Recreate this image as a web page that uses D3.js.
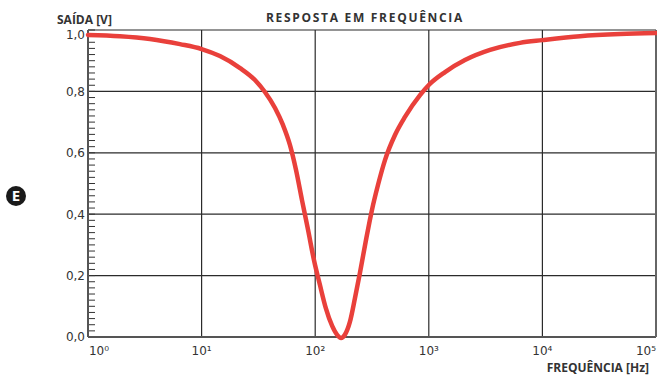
<!DOCTYPE html>
<html>
<head>
<meta charset="utf-8">
<script src="https://cdn.jsdelivr.net/npm/d3@7"></script>
<style>
  body { margin: 0; background: #fff; }
  svg { display: block; }
</style>
</head>
<body>
<script>
// frequency (Hz) and output (V)
const freq  = [1, 1.91, 3.51, 6.45, 10, 14.5, 21.8, 29.5, 36.1, 44.3, 52.1, 60, 67.8, 76.5, 86.4, 97.6, 110, 124, 141, 156, 169, 183, 202, 224, 248, 280, 316, 357, 412, 504, 617, 837, 1000, 1390, 2080, 3460, 6350, 10000, 21400, 48200, 100000];
const saida = [0.984, 0.980, 0.971, 0.954, 0.938, 0.915, 0.876, 0.837, 0.798, 0.746, 0.69, 0.625, 0.544, 0.446, 0.35, 0.25, 0.17, 0.094, 0.036, 0.007, -0.003, 0.008, 0.049, 0.127, 0.21, 0.316, 0.414, 0.495, 0.577, 0.658, 0.717, 0.788, 0.821, 0.863, 0.902, 0.935, 0.958, 0.967, 0.98, 0.987, 0.99];

const xTicks = [1, 10, 100, 1000, 10000, 100000];
const xTickExp = ['\u2070', '\u00b9', '\u00b2', '\u00b3', '\u2074', '\u2075'];
const yTicks = [0, 0.2, 0.4, 0.6, 0.8, 1.0];
const yMinorTicks = d3.range(0, 1.0001, 0.02);

const margin = { top: 30, right: 1, bottom: 40, left: 88 };
const width = 657 - margin.left - margin.right;
const height = 337 - margin.top;

const svg = d3.select('body')
  .append('svg')
  .attr('width', 657)
  .attr('height', 377);

const g = svg.append('g')
  .attr('transform', `translate(${margin.left}, ${margin.top})`);

const xScale = d3.scaleLog()
  .domain([1, 100000])
  .range([0, width]);

const yScale = d3.scaleLinear()
  .domain([0, 1])
  .range([height, 0]);

// grid
g.selectAll('.vgrid').data(xTicks)
  .enter()
  .append('line')
  .attr('x1', d => xScale(d))
  .attr('x2', d => xScale(d))
  .attr('y1', 0)
  .attr('y2', height)
  .attr('stroke', '#2b2b2b')
  .attr('stroke-width', 1.2);

g.selectAll('.hgrid').data(yTicks)
  .enter()
  .append('line')
  .attr('x1', 0)
  .attr('x2', width)
  .attr('y1', d => yScale(d))
  .attr('y2', d => yScale(d))
  .attr('stroke', '#2b2b2b')
  .attr('stroke-width', 1.2);

// minor ticks on the y axis (inside)
g.selectAll('.minor').data(yMinorTicks)
  .enter()
  .append('line')
  .attr('x1', 0)
  .attr('x2', 7)
  .attr('y1', d => yScale(d))
  .attr('y2', d => yScale(d))
  .attr('stroke', '#333')
  .attr('stroke-width', 1);

// frame
g.append('line')
  .attr('x1', 0).attr('x2', 0)
  .attr('y1', 0).attr('y2', height)
  .attr('stroke', '#555').attr('stroke-width', 2);
g.append('line')
  .attr('x1', 0).attr('x2', width)
  .attr('y1', height).attr('y2', height)
  .attr('stroke', '#555').attr('stroke-width', 2);
g.append('line')
  .attr('x1', width).attr('x2', width)
  .attr('y1', 0).attr('y2', height)
  .attr('stroke', '#666').attr('stroke-width', 2);

// y tick labels
g.selectAll('.ylab').data(yTicks)
  .enter()
  .append('text')
  .attr('x', -3)
  .attr('y', d => d === 1 ? yScale(d) + 5 : yScale(d))
  .attr('dy', '0.36em')
  .style('text-anchor', 'end')
  .style('font-family', 'DejaVu Sans, Verdana, sans-serif')
  .style('font-size', '12px')
  .style('fill', '#333')
  .text(d => d3.format('.1f')(d).replace('.', ','));

// x tick labels
g.selectAll('.xlab').data(xTicks)
  .enter()
  .append('text')
  .attr('x', (d, i) => xScale(d) + (i === 0 ? 11 : i === xTicks.length - 1 ? -10 : 0))
  .attr('y', height + 18)
  .style('text-anchor', 'middle')
  .style('font-family', 'DejaVu Sans, Verdana, sans-serif')
  .style('font-size', '12px')
  .style('fill', '#333')
  .text((d, i) => '10' + xTickExp[i]);

// curve
const line = d3.line()
  .x((d, i) => xScale(freq[i]))
  .y(d => yScale(d))
  .curve(d3.curveMonotoneX);

g.append('path')
  .datum(saida)
  .attr('d', line)
  .attr('fill', 'none')
  .attr('stroke', '#e9403b')
  .attr('stroke-width', 4.5)
  .attr('stroke-linejoin', 'round')
  .attr('stroke-linecap', 'round');

// titles
svg.append('text')
  .attr('x', 365)
  .attr('y', 22)
  .style('text-anchor', 'middle')
  .style('font-family', 'Open Sans, sans-serif')
  .style('font-weight', 'bold')
  .style('font-size', '12px')
  .style('letter-spacing', '1.7px')
  .style('fill', '#333')
  .text('RESPOSTA EM FREQUÊNCIA');

svg.append('text')
  .attr('x', 57)
  .attr('y', 24)
  .style('font-family', 'Open Sans, sans-serif')
  .style('font-weight', 'bold')
  .style('font-size', '12px')
  .style('fill', '#333')
  .text('SAÍDA [V]');

svg.append('text')
  .attr('x', 649)
  .attr('y', 372)
  .style('text-anchor', 'end')
  .style('font-family', 'Open Sans, sans-serif')
  .style('font-weight', 'bold')
  .style('font-size', '12px')
  .style('fill', '#333')
  .text('FREQUÊNCIA [Hz]');

// "E" badge
svg.append('circle')
  .attr('cx', 16)
  .attr('cy', 196)
  .attr('r', 10)
  .attr('fill', '#1a1a1a');
svg.append('text')
  .attr('x', 16)
  .attr('y', 196)
  .attr('dy', '0.36em')
  .style('text-anchor', 'middle')
  .style('font-family', 'Open Sans, sans-serif')
  .style('font-weight', 'bold')
  .style('font-size', '15px')
  .style('fill', '#fff')
  .text('E');
</script>
</body>
</html>
